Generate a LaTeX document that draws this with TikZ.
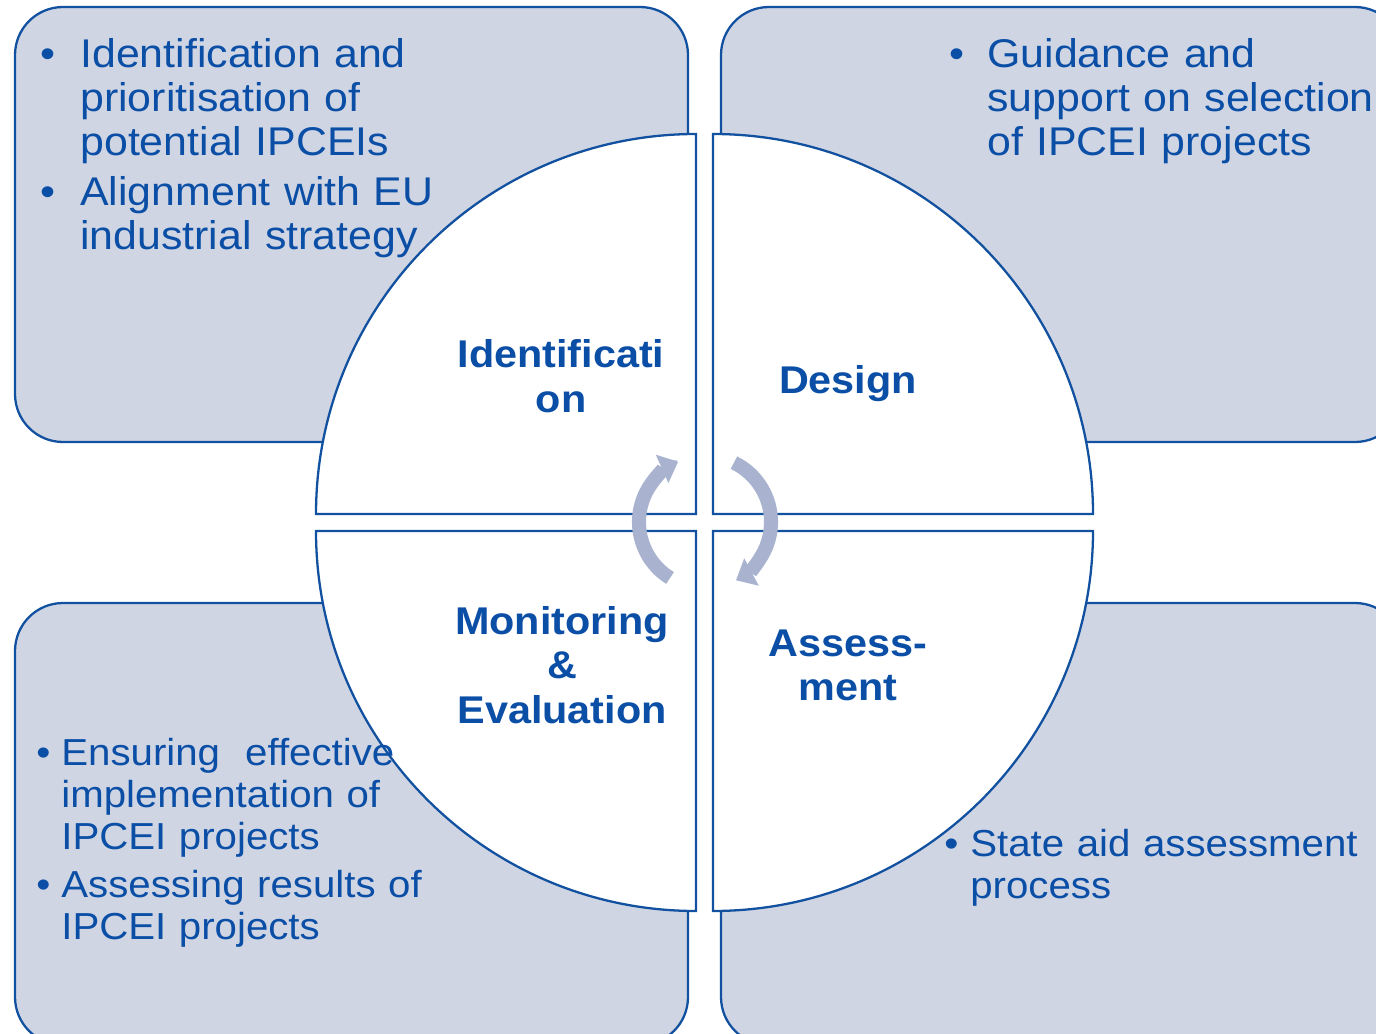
\documentclass[tikz,border=0pt]{standalone}
\usepackage{fontspec}
\setmainfont{Liberation Sans}[FakeStretch=1.07]
\usepackage{xcolor}
\usetikzlibrary{arrows.meta}
\definecolor{panelfill}{HTML}{CFD5E3}
\definecolor{ecblue}{HTML}{1251A0}
\definecolor{ectext}{HTML}{0B4EA6}
\definecolor{cyclegrey}{HTML}{A9B3D0}
\newcommand{\bitem}[2]{\par\hangindent=#1\hangafter=1\noindent\makebox[#1][l]{\strut\textbullet}#2\par}

\begin{document}
\begin{tikzpicture}[
  x=0.02cm, y=0.02cm,
  panel/.style={draw=ecblue, fill=panelfill, line width=1.3pt, rounded corners=0.96cm},
  quarter/.style={draw=ecblue, fill=white, line width=1.3pt},
  notes/.style={anchor=north west, inner sep=0pt, text width=12cm, align=left, text=ectext},
  bignotes/.style={notes, font=\fontsize{22.8}{25}\selectfont},
  smallnotes/.style={notes, font=\fontsize{21.4}{23.9}\selectfont},
  phase/.style={anchor=north, inner sep=0pt, align=center, text=ectext, font=\fontsize{22}{25.3}\selectfont\bfseries},
  cyc/.style={draw=cyclegrey, line width=8pt, -{Triangle[width=17pt, length=10pt]}}
]
\useasboundingbox (0,0) rectangle (1376,-1034);
\clip (0,0) rectangle (1376,-1034);

\draw[panel] (15,-7) rectangle (688,-442);
\draw[panel] (721,-7) rectangle (1403,-442);
\draw[panel] (15,-603) rectangle (688,-1045);
\draw[panel] (721,-603) rectangle (1403,-1045);

\draw[quarter] (696,-514) -- ++(-380,0) arc[start angle=180, end angle=90, radius=380] -- cycle;
\draw[quarter] (713,-514) -- ++(0,380) arc[start angle=90, end angle=0, radius=380] -- cycle;
\draw[quarter] (696,-531) -- ++(0,-380) arc[start angle=270, end angle=180, radius=380] -- cycle;
\draw[quarter] (713,-531) -- ++(380,0) arc[start angle=0, end angle=-90, radius=380] -- cycle;

\coordinate (hub) at (705,-522);
\draw[cyc] ([shift={(238:66)}]hub) arc[start angle=238, end angle=114, radius=66];
\draw[cyc] ([shift={(64:66)}]hub) arc[start angle=64, end angle=-62, radius=66];

\node[phase] (ident) at (561,-336.5) {\strut Identificati\\on};
\node[phase] (design) at (848,-361.9) {\strut Design};
\node[phase] (monitor) at (562,-602.9) {\strut Monitoring\\\&\\Evaluation};
\node[phase] (assess) at (848,-624.9) {\strut Assess-\\ment};

\node[bignotes] (identnotes) at (40,-23.2) {%
  \bitem{0.8cm}{Identification and\newline prioritisation of\newline potential IPCEIs}\vspace{3.5pt}%
  \bitem{0.8cm}{Alignment with EU\newline industrial strategy}};
\node[bignotes] (designnotes) at (949,-23.2) {%
  \bitem{0.76cm}{Guidance and\newline support on selection\newline of IPCEI projects}};
\node[smallnotes] (monitornotes) at (36,-723.6) {%
  \bitem{0.5cm}{Ensuring\ \ effective\newline implementation of\newline IPCEI projects}\vspace{3.4pt}%
  \bitem{0.5cm}{Assessing results of\newline IPCEI projects}};
\node[smallnotes] (assessnotes) at (944,-814.6) {%
  \bitem{0.52cm}{State aid assessment\newline process}};

\end{tikzpicture}
\end{document}
